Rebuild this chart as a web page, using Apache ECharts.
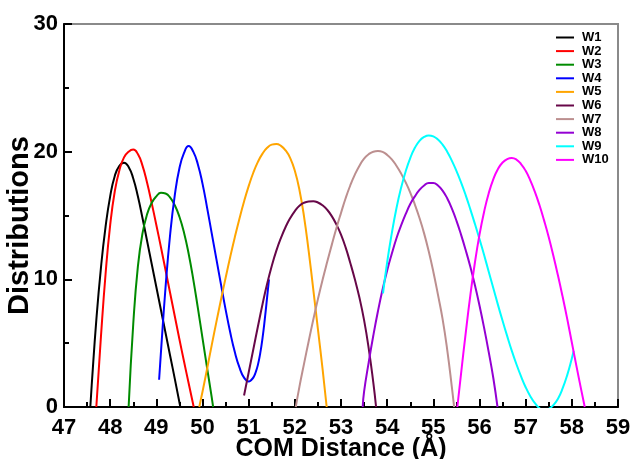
<!DOCTYPE html>
<html>
<head>
<meta charset="utf-8">
<script src="https://cdn.jsdelivr.net/npm/echarts@6/dist/echarts.min.js"></script>
<style>
html,body{margin:0;padding:0;background:#fff;}
#chart{width:632px;height:459px;}
</style>
</head>
<body>
<div id="chart"></div>
<script>
// ---- data ----
const seriesNames = ['W1','W2','W3','W4','W5','W6','W7','W8','W9','W10'];
const xTicks = [47,48,49,50,51,52,53,54,55,56,57,58,59];
const yTicks = [0,10,20,30];

const W1 = [[47.57,0],[47.6,1.7],[47.7,6.8],[47.8,10.9],[47.9,14.1],[48.0,16.5],[48.1,18.1],[48.2,18.9],[48.3,19.14],[48.4,18.8],[48.5,17.9],[48.6,16.5],[48.7,14.8],[48.8,13.0],[48.9,11.2],[49.0,9.4],[49.1,7.6],[49.2,5.8],[49.3,4.0],[49.4,2.2],[49.52,0]];
const W2 = [[47.70,0],[47.8,5.5],[47.9,10.4],[48.0,14.25],[48.1,16.9],[48.2,18.55],[48.3,19.55],[48.4,20.0],[48.5,20.16],[48.6,19.81],[48.7,18.91],[48.8,17.56],[48.9,15.96],[49.0,14.26],[49.1,12.51],[49.2,10.71],[49.3,8.91],[49.4,7.11],[49.5,5.31],[49.6,3.56],[49.7,1.86],[49.81,0]];
const W3 = [[48.40,0],[48.5,6.5],[48.6,11.0],[48.7,13.6],[48.8,15.1],[48.9,16.0],[49.0,16.5],[49.1,16.78],[49.2,16.72],[49.3,16.4],[49.4,15.8],[49.5,14.9],[49.6,13.65],[49.7,12.0],[49.8,10.0],[49.9,7.75],[50.0,5.4],[50.1,3.05],[50.2,0.75],[50.23,0]];
const W4 = [[49.06,2.13],[49.1,4.3],[49.2,9.4],[49.3,13.55],[49.4,16.6],[49.5,18.7],[49.6,19.9],[49.7,20.44],[49.8,20.0],[49.9,19.0],[50.0,17.5],[50.1,15.6],[50.2,13.6],[50.3,11.6],[50.4,9.6],[50.5,7.65],[50.6,5.85],[50.7,4.3],[50.8,3.1],[50.9,2.3],[51.0,2.0],[51.05,2.1],[51.1,2.3],[51.15,2.7],[51.2,3.3],[51.25,4.2],[51.3,5.4],[51.35,6.9],[51.4,8.6],[51.44,10.0]];
const W5 = [[49.93,0],[50.0,1.2],[50.1,3.0],[50.2,4.85],[50.3,6.65],[50.4,8.4],[50.5,10.1],[50.6,11.75],[50.7,13.3],[50.8,14.75],[50.9,16.1],[51.0,17.3],[51.1,18.35],[51.2,19.2],[51.3,19.85],[51.4,20.3],[51.5,20.55],[51.6,20.6],[51.7,20.45],[51.8,20.1],[51.9,19.5],[52.0,18.5],[52.1,17.0],[52.2,14.9],[52.3,12.2],[52.4,9.2],[52.5,6.1],[52.6,3.0],[52.69,0]];
const W6 = [[50.90,0.9],[51.0,2.7],[51.1,4.5],[51.2,6.3],[51.3,8.05],[51.4,9.65],[51.5,11.05],[51.6,12.25],[51.7,13.25],[51.8,14.1],[51.9,14.8],[52.0,15.35],[52.1,15.77],[52.2,16.0],[52.3,16.1],[52.4,16.12],[52.5,16.02],[52.6,15.8],[52.7,15.45],[52.8,14.95],[52.9,14.3],[53.0,13.5],[53.1,12.5],[53.2,11.3],[53.3,10.0],[53.4,8.55],[53.5,6.8],[53.6,4.6],[53.7,1.9],[53.76,0]];
const W7 = [[52.02,0],[52.1,1.6],[52.2,3.4],[52.3,5.15],[52.4,6.85],[52.5,8.45],[52.6,9.95],[52.7,11.35],[52.8,12.7],[52.9,14.0],[53.0,15.2],[53.1,16.35],[53.2,17.35],[53.3,18.2],[53.4,18.9],[53.5,19.45],[53.6,19.8],[53.7,20.0],[53.8,20.05],[53.9,19.98],[54.0,19.75],[54.1,19.4],[54.2,18.9],[54.3,18.3],[54.4,17.6],[54.5,16.8],[54.6,15.85],[54.7,14.8],[54.8,13.6],[54.9,12.2],[55.0,10.6],[55.1,8.8],[55.2,6.9],[55.3,4.5],[55.4,1.6],[55.45,0]];
const W8 = [[53.47,0],[53.5,1.2],[53.6,3.5],[53.7,5.6],[53.8,7.5],[53.9,9.2],[54.0,10.7],[54.1,12.0],[54.2,13.2],[54.3,14.2],[54.4,15.1],[54.5,15.9],[54.6,16.5],[54.7,17.0],[54.8,17.35],[54.9,17.55],[55.0,17.55],[55.1,17.35],[55.2,16.95],[55.3,16.35],[55.4,15.55],[55.5,14.6],[55.6,13.5],[55.7,12.3],[55.8,11.0],[55.9,9.55],[56.0,7.95],[56.1,6.2],[56.2,4.3],[56.3,2.25],[56.39,0]];
const W9 = [[53.91,8.9],[54.0,11.35],[54.1,13.6],[54.2,15.55],[54.3,17.15],[54.4,18.45],[54.5,19.5],[54.6,20.3],[54.7,20.85],[54.8,21.15],[54.9,21.27],[55.0,21.2],[55.1,20.95],[55.2,20.55],[55.3,20.0],[55.4,19.3],[55.5,18.5],[55.6,17.6],[55.7,16.6],[55.8,15.5],[55.9,14.35],[56.0,13.15],[56.1,11.9],[56.2,10.6],[56.3,9.3],[56.4,8.0],[56.5,6.75],[56.6,5.55],[56.7,4.4],[56.8,3.35],[56.9,2.4],[57.0,1.55],[57.1,0.85],[57.2,0.3],[57.3,-0.1],[57.4,-0.3],[57.5,-0.15],[57.6,0.15],[57.7,0.65],[57.8,1.45],[57.9,2.5],[58.0,3.8],[58.04,4.4]];
const W10 = [[55.52,0],[55.6,2.6],[55.7,5.75],[55.8,8.7],[55.9,11.3],[56.0,13.5],[56.1,15.3],[56.2,16.75],[56.3,17.85],[56.4,18.65],[56.5,19.15],[56.6,19.42],[56.7,19.5],[56.8,19.38],[56.9,19.03],[57.0,18.5],[57.1,17.75],[57.2,16.85],[57.3,15.8],[57.4,14.6],[57.5,13.3],[57.6,11.85],[57.7,10.3],[57.8,8.65],[57.9,6.9],[58.0,5.05],[58.1,3.2],[58.2,1.4],[58.28,0]];

const seriesData = [W1,W2,W3,W4,W5,W6,W7,W8,W9,W10];
const colors = ['#000000','#ff0000','#008b00','#0000ff','#ffa500','#670748','#bc8f8f','#9400d3','#00ffff','#ff00ff'];

const chart = echarts.init(document.getElementById('chart'), null, {renderer:'canvas'});
const FONT = 'Liberation Sans, Arial, Helvetica, sans-serif';

chart.setOption({
  animation: false,
  backgroundColor: '#ffffff',
  color: colors,
  grid: {left: 64, right: 14, top: 24, bottom: 52, containLabel: false, outerBoundsMode: 'none',
         show: true, borderColor: '#8a8a8a', borderWidth: 2, backgroundColor: 'transparent'},
  legend: {
    data: seriesNames, orient: 'vertical', left: 556, top: 31, padding: 0,
    icon: 'rect', itemWidth: 18, itemHeight: 2, itemGap: 0.6,
    textStyle: {fontFamily: FONT, fontWeight: 'bold', fontSize: 13, color: '#000', lineHeight: 12, padding: [0,0,0,3]}
  },
  xAxis: {
    type: 'value', min: xTicks[0], max: xTicks[xTicks.length-1], interval: 1,
    name: 'COM Distance (Å)', nameLocation: 'middle', nameGap: 30, nameMoveOverlap: false,
    nameTextStyle: {fontFamily: FONT, fontWeight: 'bold', fontSize: 25, color: '#000'},
    axisLine: {show: true, onZero: false, lineStyle: {color: '#000', width: 2}},
    axisTick: {show: true, inside: true, length: 8, lineStyle: {color: '#000', width: 2}},
    minorTick: {show: true, splitNumber: 2, length: 5, lineStyle: {color: '#000', width: 2}},
    axisLabel: {fontFamily: FONT, fontWeight: 'bold', fontSize: 22, color: '#000', margin: 10, showMinLabel: true, showMaxLabel: true, hideOverlap: false},
    splitLine: {show: false}
  },
  yAxis: {
    type: 'value', min: yTicks[0], max: yTicks[yTicks.length-1], interval: 10,
    name: 'Distributions', nameLocation: 'middle', nameGap: 30, nameMoveOverlap: false,
    nameTextStyle: {fontFamily: FONT, fontWeight: 'bold', fontSize: 29, color: '#000', padding: [0, 20, 0, 0]},
    axisLine: {show: true, onZero: false, lineStyle: {color: '#000', width: 2}},
    axisTick: {show: true, inside: true, length: 8, lineStyle: {color: '#000', width: 2}},
    minorTick: {show: true, splitNumber: 2, length: 5, lineStyle: {color: '#000', width: 2}},
    axisLabel: {fontFamily: FONT, fontWeight: 'bold', fontSize: 22, color: '#000', margin: 6, hideOverlap: false},
    splitLine: {show: false}
  },
  series: seriesNames.map((n, i) => ({
    name: n, type: 'line', data: seriesData[i], smooth: 0.5, symbol: 'none', clip: true,
    lineStyle: {width: 2, color: colors[i]}, itemStyle: {color: colors[i]}
  }))
});
</script>
</body>
</html>
